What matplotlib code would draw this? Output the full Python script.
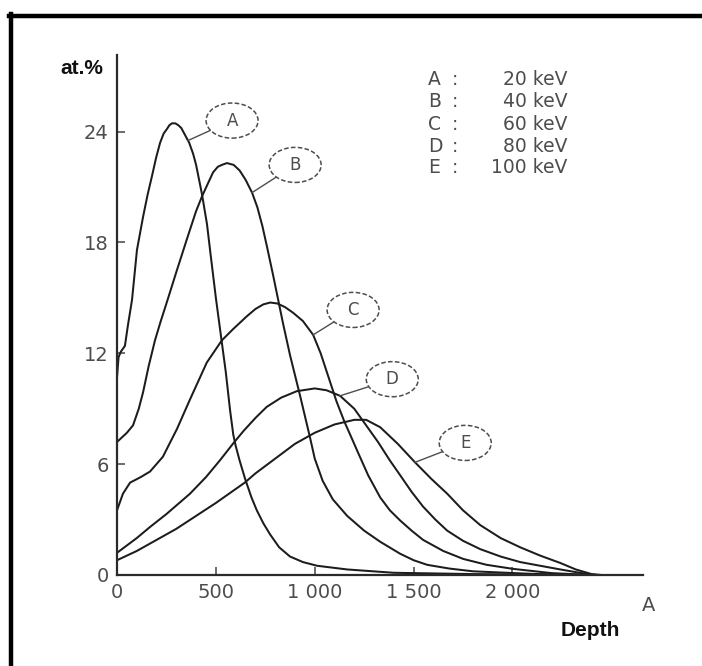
import matplotlib
matplotlib.use("Agg")
import numpy as np
import matplotlib.pyplot as plt
from matplotlib.patches import Ellipse
from matplotlib.lines import Line2D

# implanted concentration profiles, depth in angstrom, concentration in at.%
depth_a = [0, 8, 20, 40, 55, 76, 101, 132, 155, 177, 198, 218, 236, 253, 265,
           278, 295, 310, 325, 340, 365, 385, 400, 430, 455, 475, 500, 525,
           550, 572, 588, 600, 620, 648, 680, 707, 740, 774, 820, 875, 940,
           1012, 1164, 1400, 1800, 2400]
conc_a = [10.7, 11.8, 12.1, 12.4, 13.5, 14.9, 17.6, 19.4, 20.6, 21.6, 22.6,
          23.4, 23.9, 24.15, 24.35, 24.45, 24.45, 24.35, 24.2, 23.9, 23.4,
          22.8, 22.2, 20.6, 19.0, 17.2, 15.0, 13.0, 11.0, 8.9, 7.6, 7.0, 6.2,
          5.2, 4.2, 3.5, 2.8, 2.2, 1.5, 1.0, 0.7, 0.5, 0.3, 0.12, 0.05, 0.0]

depth_b = [0, 20, 50, 81, 110, 132, 160, 192, 220, 253, 300, 354, 400, 430,
           460, 486, 510, 530, 556, 590, 620, 650, 683, 710, 735, 760, 790,
           815, 840, 875, 926, 977, 1000, 1040, 1091, 1164, 1250, 1331, 1432,
           1500, 1569, 1680, 1800, 2100, 2400]
conc_b = [7.2, 7.4, 7.7, 8.1, 9.0, 9.9, 11.3, 12.7, 13.7, 14.8, 16.4, 18.2,
          19.7, 20.5, 21.2, 21.8, 22.1, 22.2, 22.3, 22.2, 21.9, 21.4, 20.7,
          19.9, 18.9, 17.7, 16.2, 14.9, 13.6, 11.9, 9.7, 7.4, 6.3, 5.1, 4.1,
          3.2, 2.4, 1.8, 1.15, 0.8, 0.55, 0.35, 0.2, 0.06, 0.0]

depth_c = [0, 30, 66, 120, 167, 232, 303, 369, 454, 530, 586, 656, 700, 740,
           775, 810, 850, 890, 940, 992, 1030, 1070, 1110, 1150, 1179, 1220,
           1270, 1331, 1380, 1432, 1490, 1548, 1650, 1751, 1870, 2004, 2200,
           2400]
conc_c = [3.5, 4.4, 5.0, 5.3, 5.6, 6.4, 7.9, 9.5, 11.5, 12.7, 13.3, 14.0,
          14.4, 14.65, 14.75, 14.7, 14.5, 14.2, 13.75, 13.0, 12.0, 10.7, 9.4,
          8.3, 7.6, 6.6, 5.4, 4.2, 3.5, 2.95, 2.4, 1.9, 1.3, 0.87, 0.55, 0.33,
          0.1, 0.0]

depth_d = [0, 50, 100, 167, 250, 369, 450, 520, 586, 640, 700, 757, 830, 909,
           1000, 1060, 1128, 1200, 1260, 1320, 1380, 1432, 1490, 1548, 1610,
           1670, 1750, 1837, 1940, 2039, 2140, 2242, 2340, 2420]
conc_d = [1.2, 1.6, 2.0, 2.6, 3.3, 4.4, 5.3, 6.2, 7.1, 7.8, 8.5, 9.1, 9.6,
          9.95, 10.1, 10.0, 9.7, 9.0, 8.1, 7.2, 6.2, 5.4, 4.5, 3.7, 3.0, 2.4,
          1.85, 1.4, 1.0, 0.7, 0.5, 0.3, 0.12, 0.0]

depth_e = [0, 100, 200, 300, 400, 500, 646, 700, 800, 900, 1000, 1100, 1200,
           1260, 1331, 1420, 1507, 1590, 1670, 1750, 1837, 1940, 2039, 2140,
           2242, 2320, 2400, 2450]
conc_e = [0.8, 1.3, 1.9, 2.5, 3.2, 3.9, 5.0, 5.5, 6.3, 7.1, 7.7, 8.15, 8.4,
          8.4, 8.0, 7.1, 6.1, 5.2, 4.4, 3.5, 2.7, 2.0, 1.5, 1.05, 0.65, 0.3,
          0.05, 0.0]

letters = ["A", "B", "C", "D", "E"]
energies = [20, 40, 60, 80, 100]

# where each leader line touches its curve, and where the tag sits
tag_anchor = [359, 683, 992, 1128, 1507]
tag_x = [582, 901, 1194, 1392, 1761]
tag_y = [24.6, 22.2, 14.35, 10.6, 7.15]

x_ticks = [0, 500, 1000, 1500, 2000]
x_tick_labels = ["0", "500", "1 000", "1 500", "2 000"]
y_ticks = [0, 6, 12, 18, 24]

curves = [(depth_a, conc_a), (depth_b, conc_b), (depth_c, conc_c),
          (depth_d, conc_d), (depth_e, conc_e)]

ink = "#1c1c1c"
grey = "#4d4d4d"

fig = plt.figure(figsize=(7.02, 6.66), dpi=100)
ax = fig.add_axes([117 / 702, 91 / 666, 526 / 702, 520 / 666])

for d, c in curves:
    ax.plot(d, c, color=ink, lw=1.45, solid_joinstyle="round", zorder=2)

ax.set_xlim(0, 2660)
ax.set_ylim(0, 28.15)
for side in ["top", "right"]:
    ax.spines[side].set_visible(False)
for side in ["left", "bottom"]:
    ax.spines[side].set_color("#2a2a2a")
    ax.spines[side].set_linewidth(1.6)

ax.set_xticks(x_ticks)
ax.set_xticklabels(x_tick_labels)
ax.set_yticks(y_ticks)
ax.tick_params(axis="both", direction="in", length=6, width=1.1,
               color="#444444", labelcolor=grey, labelsize=14)
ax.tick_params(axis="y", pad=6)
ax.tick_params(axis="x", pad=6)

# tags: dashed ellipse with a short leader to the curve
for (d, c), name, anc, tx, ty in zip(curves, letters, tag_anchor, tag_x, tag_y):
    ay = np.interp(anc, d, c)
    ax.plot([anc, tx], [ay, ty], color=grey, lw=1.0, zorder=3)
    ax.add_patch(Ellipse((tx, ty), 263, 1.9, facecolor="white",
                         edgecolor=grey, lw=1.1, ls=(0, (3, 1.5)), zorder=4))
    ax.text(tx, ty, name, ha="center", va="center", fontsize=12,
            color=grey, zorder=5)

# energy key
rows_y = [0.952, 0.910, 0.867, 0.825, 0.783]
for name, e, ry in zip(letters, energies, rows_y):
    ax.text(0.591, ry, name, transform=ax.transAxes, ha="left", va="center",
            fontsize=13.5, color=grey)
    ax.text(0.643, ry, ":", transform=ax.transAxes, ha="center", va="center",
            fontsize=13.5, color=grey)
    ax.text(0.856, ry, f"{e} keV", transform=ax.transAxes, ha="right",
            va="center", fontsize=13.5, color=grey)

ax.text(1.01, -0.058, "A", transform=ax.transAxes, ha="center", va="center",
        fontsize=14, color=grey)
ax.text(-0.0665, 0.975, "at.%", transform=ax.transAxes, ha="center",
        va="center", fontsize=15, fontweight="bold",
        family="Liberation Sans", color="#111111")
ax.text(0.899, -0.106, "Depth", transform=ax.transAxes, ha="center",
        va="center", fontsize=15, fontweight="bold",
        family="Liberation Sans", color="#111111")

# frame along the top and left edges
fig.add_artist(Line2D([11 / 702, 11 / 702], [0, 1 - 14 / 666],
                      transform=fig.transFigure, color="black", lw=3.2))
fig.add_artist(Line2D([9 / 702, 1], [1 - 16 / 666, 1 - 16 / 666],
                      transform=fig.transFigure, color="black", lw=3.2))

fig.savefig("out.png", dpi=100)
